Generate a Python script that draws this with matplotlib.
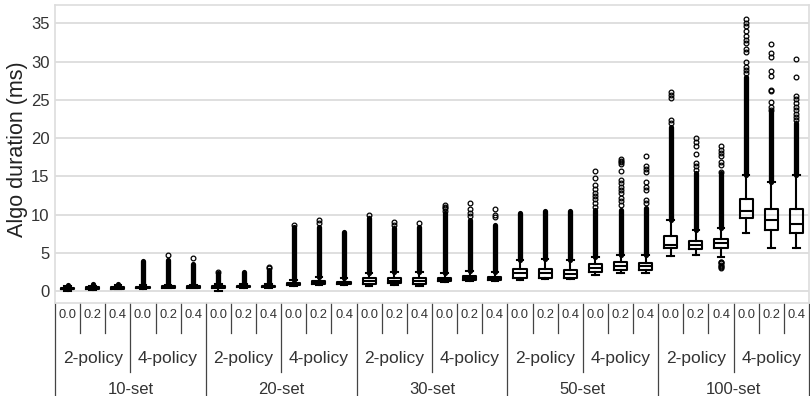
"""
Box plot: algorithm duration per set size, policy count and fraction
"""
import matplotlib.pyplot as plt

plt.rcParams['font.family'] = ['Liberation Sans', 'DejaVu Sans']

# Grouping of the 30 boxes (set -> policy -> fraction)
sets = ['10-set', '20-set', '30-set', '50-set', '100-set']
policies = ['2-policy', '4-policy']
fractions = ['0.0', '0.2', '0.4']

# Box statistics (ms), one entry per box, left to right
whislo = [0.05, 0.10, 0.25, 0.30, 0.35, 0.35,
          0.05, 0.45, 0.45, 0.60, 0.75, 0.75,
          0.65, 0.78, 0.70, 1.20, 1.35, 1.25,
          1.44, 1.53, 1.53, 2.09, 2.31, 2.31,
          4.58, 4.67, 4.40, 7.62, 5.58, 5.66]
q1 = [0.20, 0.22, 0.30, 0.35, 0.40, 0.40,
      0.40, 0.50, 0.50, 0.80, 0.92, 0.92,
      0.92, 1.00, 0.92, 1.30, 1.50, 1.40,
      1.66, 1.74, 1.66, 2.52, 2.75, 2.75,
      5.58, 5.45, 5.58, 9.58, 7.97, 7.62]
med = [0.30, 0.35, 0.42, 0.45, 0.50, 0.50,
       0.50, 0.60, 0.60, 0.95, 1.10, 1.05,
       1.31, 1.35, 1.31, 1.48, 1.70, 1.60,
       2.31, 2.31, 2.22, 3.05, 3.27, 3.27,
       6.01, 5.97, 6.23, 10.46, 9.28, 8.76]
q3 = [0.45, 0.50, 0.55, 0.55, 0.60, 0.60,
      0.62, 0.70, 0.70, 1.10, 1.28, 1.22,
      1.66, 1.74, 1.66, 1.65, 1.90, 1.82,
      2.84, 2.84, 2.75, 3.53, 3.83, 3.70,
      7.19, 6.58, 6.80, 12.03, 10.68, 10.72]
whishi = [0.60, 0.65, 0.75, 0.75, 0.80, 0.80,
          0.90, 0.95, 0.95, 1.50, 1.80, 1.70,
          2.39, 2.52, 2.52, 2.30, 2.60, 2.50,
          4.05, 4.14, 4.05, 4.40, 4.71, 4.71,
          9.28, 7.97, 8.19, 15.17, 14.29, 15.17]

# Upper end of the solid run of outliers above each whisker
dense_top = [0.80, 0.85, 0.95, 3.90, 4.05, 3.50,
             2.40, 2.45, 2.75, 8.40, 8.40, 7.70,
             9.60, 8.20, 8.33, 10.20, 9.30, 8.60,
             10.24, 10.40, 10.40, 10.60, 10.60, 10.80,
             21.50, 15.40, 15.40, 28.00, 23.50, 21.90]

# Separate outliers above the solid runs
sparse_fliers = [
    [], [], [], [], [4.7], [4.25],
    [2.5], [], [2.95, 3.15], [8.6], [8.9, 9.3], [],
    [9.9], [8.63, 9.06], [8.93], [10.5, 10.8, 11.0, 11.2], [9.8, 10.24, 10.7, 11.5], [9.63, 9.94, 10.7],
    [], [], [],
    [11.0, 11.5, 12.0, 12.4, 12.85, 13.3, 13.9, 14.8, 15.7],
    [11.2, 11.7, 12.1, 12.8, 13.2, 13.6, 14.1, 14.5, 15.7, 16.6, 16.8, 17.0, 17.2],
    [11.5, 11.9, 13.2, 13.6, 14.2, 15.5, 15.9, 16.3, 17.6],
    [21.9, 22.3, 25.2, 25.6, 26.0],
    [15.8, 16.3, 16.7, 17.9, 18.9, 19.5, 19.96],
    [15.6, 16.5, 16.9, 17.6, 18.0, 18.4, 18.9],
    [28.5, 28.9, 29.3, 30.0, 31.3, 31.7, 32.4, 32.8, 33.3, 34.0, 34.6, 35.1, 35.5],
    [23.7, 24.1, 24.7, 26.1, 26.3, 28.1, 28.7, 30.6, 31.1, 32.3],
    [22.4, 22.8, 23.2, 23.7, 24.1, 24.6, 25.1, 25.5, 28.0, 30.3],
]

# Outliers below the lower whisker (only the 100-set, 2-policy, 0.4 box)
low_fliers = [[] for _ in range(29)]
low_fliers.insert(26, [3.0, 3.15, 3.3, 3.45, 3.6, 3.75, 3.85])

n_box = len(med)
positions = list(range(n_box))

stats = []
for i in range(n_box):
    stats.append({
        'whislo': whislo[i], 'q1': q1[i], 'med': med[i], 'q3': q3[i], 'whishi': whishi[i],
        'fliers': sparse_fliers[i] + low_fliers[i],
    })

fig = plt.figure(figsize=(8.1, 3.96), dpi=100)
ax = fig.add_axes([55 / 810, 1 - 303 / 396, 754 / 810, 298 / 396])

line = dict(color='black', linewidth=1.5)
ax.bxp(stats, positions=positions, widths=0.52, showfliers=True,
       boxprops=line, whiskerprops=line, capprops=line, medianprops=line,
       flierprops=dict(marker='o', markersize=3.4, markerfacecolor='none',
                       markeredgecolor='black', markeredgewidth=0.9))

# the thousands of overlapping outliers read as a solid black column
ax.vlines(positions, whishi, dense_top, colors='black', linewidth=3.8, capstyle='round', zorder=2)

ax.set_xlim(-0.5, n_box - 0.5)
ax.set_ylim(-1.57, 37.39)
ax.set_yticks(range(0, 36, 5))
ax.tick_params(axis='y', length=0, pad=4, labelsize=12, labelcolor='#333333')
ax.tick_params(axis='x', length=0, labelbottom=False)
ax.yaxis.grid(True, color='#d9d9d9', linewidth=1.2)
ax.set_axisbelow(True)
for sp in ax.spines.values():
    sp.set_color('#dddddd')
    sp.set_linewidth(1.2)

fig.text(18 / 810, 1 - 149.5 / 396, 'Algo duration (ms)', rotation=90,
         ha='center', va='center', fontsize=15.5, color='#222222')


# hierarchical labels under the axes
def ay(py):
    return (303 - py) / 298


trans = ax.get_xaxis_transform()
sep = dict(color='#444444', linewidth=0.9, clip_on=False, transform=trans)
n_f = len(fractions)
n_p = len(policies)
for i in range(n_box + 1):
    x = i - 0.5
    if i % (n_f * n_p) == 0:
        ax.plot([x, x], [0, ay(400)], **sep)
    elif i % n_f == 0:
        ax.plot([x, x], [0, ay(371.7)], **sep)
    else:
        ax.plot([x, x], [0, ay(333.3)], **sep)

for i in range(n_box):
    ax.text(i, ay(317.8), fractions[i % n_f], transform=trans, ha='center', va='baseline',
            fontsize=9.3, color='#333333')
for j in range(len(sets) * n_p):
    x = j * n_f + (n_f - 1) / 2
    ax.text(x, ay(363.5), policies[j % n_p], transform=trans, ha='center', va='baseline',
            fontsize=12.5, color='#333333')
for k, name in enumerate(sets):
    x = k * n_f * n_p + (n_f * n_p - 1) / 2
    ax.text(x, ay(394.5), name, transform=trans, ha='center', va='baseline',
            fontsize=12, color='#333333')

fig.savefig('out.png', dpi=100)
print("saved out.png")
